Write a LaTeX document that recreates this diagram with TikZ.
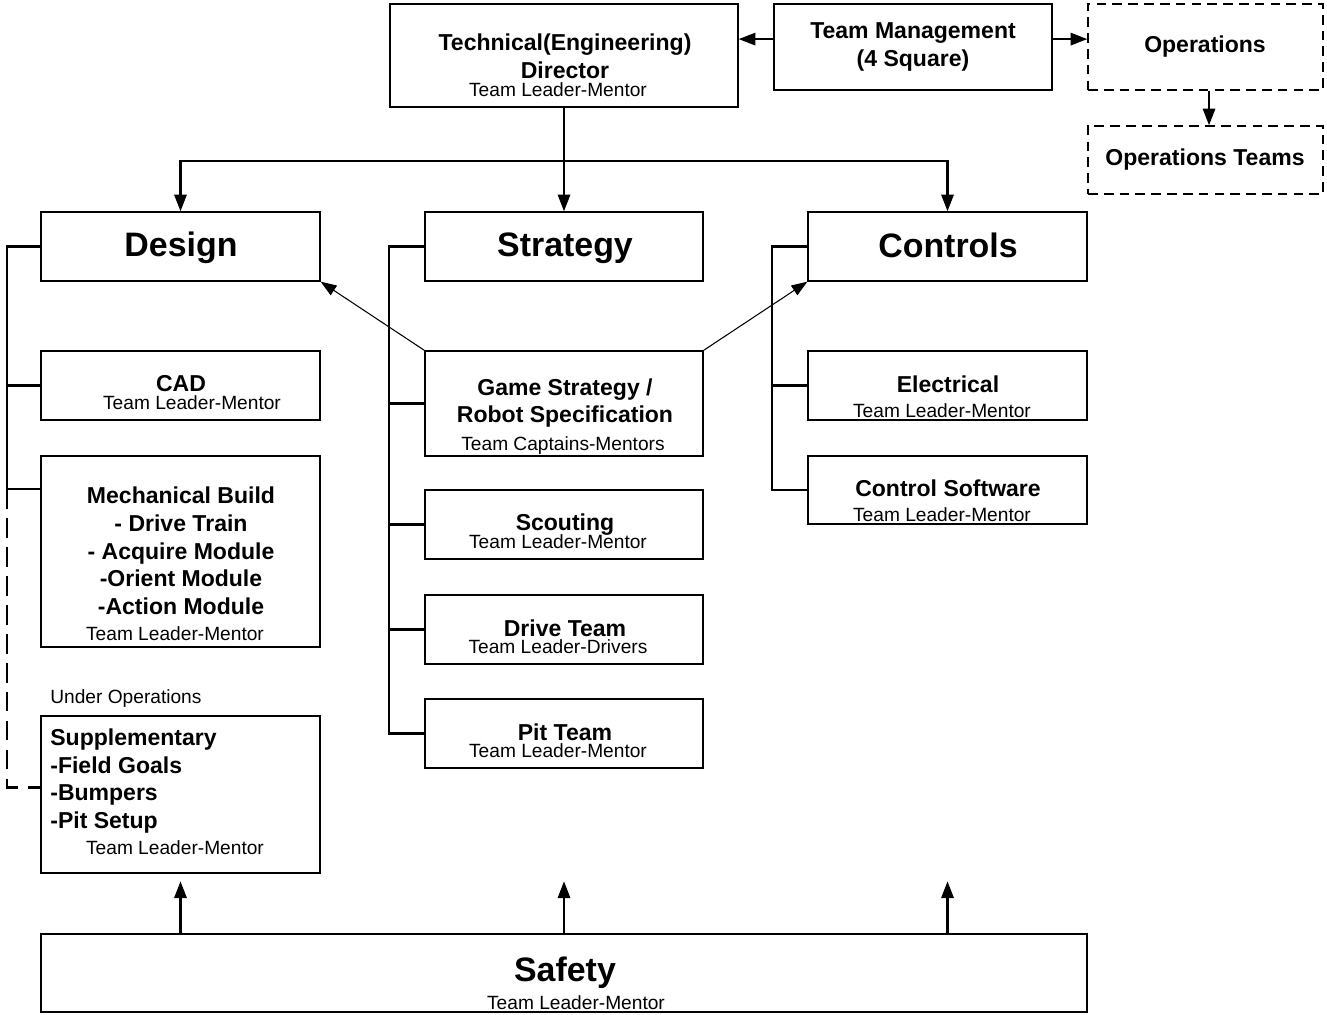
\documentclass[tikz,border=0pt]{standalone}
\usepackage{fontspec}
\setmainfont{Liberation Sans}
\usetikzlibrary{arrows.meta}

\newcommand\hdfont{\fontsize{19.3}{23}\selectfont\bfseries}
\newcommand\nmfont{\fontsize{13.1}{15.8}\selectfont\bfseries}
\newcommand\rlfont{\fontsize{10.9}{13}\selectfont}

\tikzset{
  box/.style={draw, line width=0.8pt, minimum width=5.58cm, minimum height=1.38cm, inner sep=0pt},
  opsbox/.style={box, dash pattern=on 5.5pt off 3.5pt, minimum width=4.7cm},
  lbl/.style={inner sep=0pt, align=center},
  link/.style={line width=1.2pt},
  arr/.style={link, -{Triangle[length=9.5pt,width=7pt]}},
  thinarr/.style={line width=0.6pt, -{Triangle[length=9pt,width=6.5pt]}},
}

\begin{document}
\begin{tikzpicture}[x=0.02cm, y=-0.02cm]
        \useasboundingbox (0,0) rectangle (1327,1014);

        % Top row
        \node[box, minimum width=6.96cm, minimum height=2.06cm] (tech) at (564,55.5) {};
        \node[lbl, font=\nmfont] (techT) at (565,56) {Technical(Engineering)\\Director};
        \node[lbl, font=\rlfont] (techR) at (558,90) {Team Leader-Mentor};

        \node[box, minimum width=5.56cm, minimum height=1.72cm] (mgmt) at (913,47) {};
        \node[lbl, font=\nmfont] (mgmtT) at (913,47) {Team Management\\(4 Square)};

        \node[opsbox, minimum height=1.72cm] (ops) at (1205.5,47) {};
        \node[lbl, font=\nmfont] (opsT) at (1205,47) {Operations};

        \node[opsbox, minimum height=1.36cm] (opsteams) at (1205.5,160) {};
        \node[lbl, font=\nmfont] (opsteamsT) at (1205,160) {Operations Teams};

        % Group heads
        \node[box] (design) at (180.5,246.5) {};
        \node[lbl, font=\hdfont] (designT) at (181,248) {Design};
        \node[box, minimum width=5.56cm] (strategy) at (564,246.5) {};
        \node[lbl, font=\hdfont] (strategyT) at (565,248) {Strategy};
        \node[box] (controls) at (947.5,246.5) {};
        \node[lbl, font=\hdfont] (controlsT) at (948,245) {Controls};

        % Design column
        \node[box] (cad) at (180.5,385.5) {};
        \node[lbl, font=\nmfont] (cadT) at (181,384) {CAD};
        \node[lbl, font=\rlfont] (cadR) at (192,403) {Team Leader-Mentor};

        \node[box, minimum height=3.82cm] (mech) at (180.5,551.5) {};
        \node[lbl, font=\nmfont] (mechT) at (181,551) {Mechanical Build\\- Drive Train\\- Acquire Module\\-Orient Module\\-Action Module};
        \node[lbl, font=\rlfont] (mechR) at (175,634) {Team Leader-Mentor};

        \node[lbl, font=\rlfont, anchor=west] (underops) at (50,699) {Under Operations};
        \node[box, minimum height=3.14cm] (supp) at (180.5,794.5) {};
        \node[lbl, font=\nmfont, align=left, anchor=west] (suppT) at (50,781) {Supplementary\\-Field Goals\\-Bumpers\\-Pit Setup};
        \node[lbl, font=\rlfont] (suppR) at (175,848) {Team Leader-Mentor};

        % Strategy column
        \node[box, minimum width=5.56cm, minimum height=2.1cm] (game) at (564,403.5) {};
        \node[lbl, font=\nmfont] (gameT) at (565,403) {Game Strategy /\\Robot Specification};
        \node[lbl, font=\rlfont] (gameR) at (563,446) {Team Captains-Mentors};

        \node[box, minimum width=5.56cm] (scout) at (564,524.5) {};
        \node[lbl, font=\nmfont] (scoutT) at (565,525) {Scouting};
        \node[lbl, font=\rlfont] (scoutR) at (558,542) {Team Leader-Mentor};

        \node[box, minimum width=5.56cm] (drive) at (564,629.5) {};
        \node[lbl, font=\nmfont] (driveT) at (565,628) {Drive Team};
        \node[lbl, font=\rlfont] (driveR) at (558,647) {Team Leader-Drivers};

        \node[box, minimum width=5.56cm] (pit) at (564,733.5) {};
        \node[lbl, font=\nmfont] (pitT) at (565,732) {Pit Team};
        \node[lbl, font=\rlfont] (pitR) at (558,751) {Team Leader-Mentor};

        % Controls column
        \node[box] (elec) at (947.5,385.5) {};
        \node[lbl, font=\nmfont] (elecT) at (948,384) {Electrical};
        \node[lbl, font=\rlfont] (elecR) at (942,411) {Team Leader-Mentor};

        \node[box, minimum height=1.36cm] (ctrlsw) at (947.5,490) {};
        \node[lbl, font=\nmfont] (ctrlswT) at (948,488) {Control Software};
        \node[lbl, font=\rlfont] (ctrlswR) at (942,515) {Team Leader-Mentor};

        % Safety
        \node[box, minimum width=20.92cm, minimum height=1.56cm] (safety) at (564,973) {};
        \node[lbl, font=\hdfont] (safetyT) at (565,973) {Safety};
        \node[lbl, font=\rlfont] (safetyR) at (576,1003) {Team Leader-Mentor};

        % Top arrows
        \coordinate (m1) at ([yshift=4.5pt]mgmt.west);
        \coordinate (m2) at ([yshift=4.5pt]mgmt.east);
        \draw[arr] (m1) -- (m1 -| tech.east);
        \draw[arr] (m2) -- (m2 -| ops.west);
        \draw[arr] ([xshift=2pt]ops.south) -- ([xshift=2pt]opsteams.north);

        % Director to groups
        \draw[link] (tech.south) -- ++(0,53) coordinate (bus);
        \draw[arr] (bus) -| (design.north);
        \draw[arr] (bus) -| (controls.north);
        \draw[arr] (bus) -- (strategy.north);

        % Brackets
        \coordinate (m3) at ([yshift=-19.3pt]mech.north west);
        \coordinate (s1) at ([yshift=4pt]supp.west);
        \draw[link] (design.west) -- ++(-33,0) coordinate (dl) -- (dl |- m3) -- (m3);
        \draw[link] (dl |- cad.west) -- (cad.west);
        \draw[link, dash pattern=on 11pt off 5.5pt] (dl |- m3) -- (dl |- s1) -- (s1);

        \draw[link] (strategy.west) -- ++(-35,0) coordinate (sl) -- (sl |- pit.west) -- (pit.west);
        \draw[link] (sl |- game.west) -- (game.west);
        \draw[link] (sl |- scout.west) -- (scout.west);
        \draw[link] (sl |- drive.west) -- (drive.west);

        \draw[link] (controls.west) -- ++(-35,0) coordinate (cl) -- (cl |- ctrlsw.west) -- (ctrlsw.west);
        \draw[link] (cl |- elec.west) -- (elec.west);

        % Game strategy feeds design and controls
        \draw[thinarr] (game.north west) -- (design.south east);
        \draw[thinarr] (game.north east) -- (controls.south west);

        % Safety supports all
        \draw[arr] (safety.north -| supp.south) -- ++(0,-52);
        \draw[arr] (safety.north -| pit.south) -- ++(0,-52);
        \draw[arr] (safety.north -| ctrlsw.south) -- ++(0,-52);
\end{tikzpicture}
\end{document}
